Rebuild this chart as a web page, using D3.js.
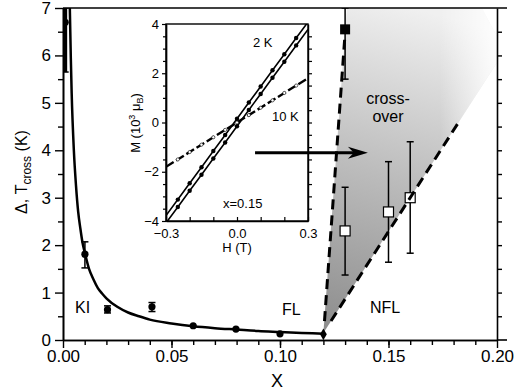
<!DOCTYPE html>
<html>
<head>
<meta charset="utf-8">
<script src="https://cdn.jsdelivr.net/npm/d3@7"></script>
<style>
  body { margin: 0; background: #fff; }
  text { font-family: "Liberation Sans", Arial, sans-serif; }
</style>
</head>
<body>
<div id="chart"></div>
<script>
// main curve (fit through the gap data)
const curveX = [0.0031, 0.0036, 0.004, 0.005, 0.006, 0.007, 0.008, 0.009, 0.010, 0.012, 0.014, 0.016, 0.018, 0.020, 0.025, 0.030, 0.035, 0.040, 0.050, 0.060, 0.070, 0.080, 0.090, 0.100, 0.110, 0.120];
const curveY = [7.1, 5.95, 5.2, 4.0, 3.25, 2.7, 2.35, 2.05, 1.85, 1.5, 1.28, 1.1, 0.98, 0.88, 0.7, 0.58, 0.5, 0.43, 0.35, 0.29, 0.25, 0.22, 0.19, 0.17, 0.15, 0.13];

// gap points (filled circles)
const gapX = [0.001, 0.0101, 0.0205, 0.041, 0.060, 0.0797, 0.100];
const gapY = [6.7, 1.81, 0.64, 0.70, 0.30, 0.23, 0.13];
const gapLo = [5.65, 1.52, 0.57, 0.60, null, null, null];
const gapHi = [7.0, 2.07, 0.72, 0.79, null, null, null];

// critical point (diamond)
const qcpX = [0.12];
const qcpY = [0.12];

// crossover temperatures (open squares)
const crossX = [0.13, 0.15, 0.16];
const crossY = [2.3, 2.7, 3.0];
const crossLo = [1.37, 1.64, 1.83];
const crossHi = [3.22, 3.76, 4.18];

// filled square
const topX = [0.13];
const topY = [6.55];
const topLo = [5.5];
const topHi = [7.0];

// boundaries of the crossover region
const leftBound = [[0.1205, 0.4], [0.1302, 6.6]];
const rightBound = [[0.1235, 0.4], [0.183, 4.64]];
const shade = [[0.12, 0.15], [0.1308, 7], [0.193, 7], [0.2, 6.4], [0.2, 5.85]];

// arrow
const arrowFrom = [0.0885, 3.95];
const arrowTo = [0.1405, 3.95];

// inset M(H)
const inH = [-0.3, -0.25, -0.2, -0.15, -0.1, -0.05, 0, 0.05, 0.1, 0.15, 0.2, 0.25, 0.3];
const m2kA = [-3.78, -3.13, -2.47, -1.82, -1.16, -0.51, 0.15, 0.81, 1.46, 2.12, 2.77, 3.43, 4.08];
const m2kB = [-4.08, -3.43, -2.77, -2.12, -1.46, -0.81, -0.15, 0.51, 1.16, 1.82, 2.47, 3.13, 3.78];
const m10k = [-1.8, -1.5, -1.2, -0.9, -0.6, -0.3, 0, 0.3, 0.6, 0.9, 1.2, 1.5, 1.8];

const xTicks = [0, 0.05, 0.1, 0.15, 0.2];
const yTicks = [0, 1, 2, 3, 4, 5, 6, 7];
const inXLabels = [-0.3, 0, 0.3];
const inYTicks = [-4, -2, 0, 2, 4];

const W = 515, H = 392;
const svg = d3.select("#chart").append("svg")
    .attr("width", W).attr("height", H);
svg.append("rect").attr("width", W).attr("height", H).attr("fill", "#fff");

const x = d3.scaleLinear().domain([0, 0.2]).range([63, 497]);
const y = d3.scaleLinear().domain([0, 7]).range([340, 8]);

const defs = svg.append("defs");
defs.append("clipPath").attr("id", "plotclip").append("rect")
    .attr("x", 63).attr("y", 8).attr("width", 434).attr("height", 332);

const grad = defs.append("linearGradient").attr("id", "shadeGrad")
    .attr("gradientUnits", "userSpaceOnUse")
    .attr("x1", 330).attr("y1", 335).attr("x2", 420).attr("y2", 10);
grad.append("stop").attr("offset", 0).attr("stop-color", "#8c8c8c");
grad.append("stop").attr("offset", 0.5).attr("stop-color", "#bcbcbc");
grad.append("stop").attr("offset", 1).attr("stop-color", "#f0f0f0");
const fade = defs.append("linearGradient").attr("id", "fadeGrad")
    .attr("gradientUnits", "userSpaceOnUse")
    .attr("x1", 440).attr("y1", 0).attr("x2", 497).attr("y2", 0);
fade.append("stop").attr("offset", 0).attr("stop-color", "#fff").attr("stop-opacity", 0);
fade.append("stop").attr("offset", 1).attr("stop-color", "#fff").attr("stop-opacity", 0.9);

const plot = svg.append("g").attr("clip-path", "url(#plotclip)");

// shaded crossover region
const poly = d3.line().x(d => x(d[0])).y(d => y(d[1]));
plot.append("path").attr("d", poly(shade) + "Z").attr("fill", "url(#shadeGrad)");
plot.append("path").attr("d", poly(shade) + "Z").attr("fill", "url(#fadeGrad)");

// main curve
const curvePts = curveX.map((v, i) => [v, curveY[i]]);
plot.append("path")
    .attr("d", d3.line().x(d => x(d[0])).y(d => y(d[1])).curve(d3.curveMonotoneX)(curvePts))
    .attr("fill", "none").attr("stroke", "#000").attr("stroke-width", 2.5);

// error bars
function errBar(g, xv, lo, hi, w, sw) {
    g.append("line").attr("x1", x(xv)).attr("x2", x(xv))
        .attr("y1", y(lo)).attr("y2", y(hi))
        .attr("stroke", "#000").attr("stroke-width", sw);
    [lo, hi].forEach(v => {
        g.append("line").attr("x1", x(xv) - w / 2).attr("x2", x(xv) + w / 2)
            .attr("y1", y(v)).attr("y2", y(v))
            .attr("stroke", "#000").attr("stroke-width", 1.5);
    });
}

gapX.forEach((v, i) => {
    if (gapLo[i] !== null) errBar(plot, v, gapLo[i], gapHi[i], 7, i === 0 ? 4 : 1.5);
});
plot.selectAll(".gap").data(gapX).enter().append("circle")
    .attr("cx", d => x(d)).attr("cy", (d, i) => y(gapY[i]))
    .attr("r", 3.6).attr("fill", "#000");

plot.selectAll(".qcp").data(qcpX).enter().append("path")
    .attr("d", d3.symbol().type(d3.symbolDiamond).size(40))
    .attr("transform", (d, i) => `translate(${x(d)},${y(qcpY[i])})`)
    .attr("fill", "#000");

// filled square
topX.forEach((v, i) => errBar(plot, v, topLo[i], topHi[i], 7, 1.5));
plot.selectAll(".tsq").data(topX).enter().append("rect")
    .attr("x", d => x(d) - 5).attr("y", (d, i) => y(topY[i]) - 5)
    .attr("width", 10).attr("height", 10).attr("fill", "#000");

// crossover squares
crossX.forEach((v, i) => errBar(plot, v, crossLo[i], crossHi[i], 7, 1.5));
plot.selectAll(".csq").data(crossX).enter().append("rect")
    .attr("x", d => x(d) - 5).attr("y", (d, i) => y(crossY[i]) - 5)
    .attr("width", 10).attr("height", 10)
    .attr("fill", "#fff").attr("stroke", "#000").attr("stroke-width", 1.2);

// dashed boundaries
[leftBound, rightBound].forEach(b => {
    plot.append("path").attr("d", poly(b))
        .attr("fill", "none").attr("stroke", "#000")
        .attr("stroke-width", 3).attr("stroke-dasharray", "10,6");
});

// axes
const fs = 17;
const ax = svg.append("g");
ax.append("g").attr("transform", "translate(63,0)")
    .call(d3.axisLeft(y).tickValues(yTicks).tickSize(8).tickSizeOuter(0).tickPadding(4).tickFormat(d3.format("d")));
ax.append("g").attr("transform", "translate(63,0)")
    .call(d3.axisLeft(y).tickValues(d3.range(0.5, 7, 1)).tickSize(5).tickSizeOuter(0).tickFormat(""));
ax.append("g").attr("transform", "translate(0,340)")
    .call(d3.axisBottom(x).tickValues(xTicks).tickSize(8).tickSizeOuter(0).tickPadding(2).tickFormat(d3.format(".2f")));
ax.append("g").attr("transform", "translate(0,340)")
    .call(d3.axisBottom(x).tickValues(d3.range(0.01, 0.2, 0.01)).tickSize(5).tickSizeOuter(0).tickFormat(""));
ax.append("g").attr("transform", "translate(497,0)")
    .call(d3.axisRight(y).tickValues(d3.range(0.5, 7, 0.5)).tickSize(5).tickSizeOuter(0).tickFormat(""));
ax.selectAll("path.domain").attr("stroke-width", 1.6);
ax.selectAll(".tick line").attr("stroke-width", 1.4);
ax.selectAll(".tick text").attr("font-size", fs).attr("fill", "#000")
    .attr("font-family", "'Liberation Sans', Arial, sans-serif");
// top frame line and extensions
ax.append("line").attr("x1", 63).attr("x2", 507).attr("y1", 8).attr("y2", 8)
    .attr("stroke", "#000").attr("stroke-width", 1.6);
ax.append("line").attr("x1", 497).attr("x2", 507).attr("y1", 340).attr("y2", 340)
    .attr("stroke", "#000").attr("stroke-width", 1.6);

// axis titles
svg.append("text").attr("x", 277).attr("y", 387).attr("text-anchor", "middle")
    .attr("font-size", 18).text("X");
const yl = svg.append("text").attr("transform", "translate(27,172) rotate(-90)")
    .attr("text-anchor", "middle").attr("font-size", 16);
yl.append("tspan").text("Δ, T");
yl.append("tspan").attr("font-size", 12).attr("dy", 4).text("cross");
yl.append("tspan").attr("dy", -4).text(" (K)");

// region labels
const lab = [["KI", 75, 313], ["FL", 282, 315], ["NFL", 370, 313]];
lab.forEach(l => svg.append("text").attr("x", l[1]).attr("y", l[2]).attr("font-size", 16).text(l[0]));
svg.append("text").attr("x", 388).attr("y", 104).attr("text-anchor", "middle").attr("font-size", 16).text("cross-");
svg.append("text").attr("x", 388).attr("y", 122).attr("text-anchor", "middle").attr("font-size", 16).text("over");

// ---------- inset ----------
const ix = d3.scaleLinear().domain([-0.3, 0.3]).range([166, 308]);
const iy = d3.scaleLinear().domain([-4, 4]).range([221, 24]);
const inset = svg.append("g");
inset.append("rect").attr("x", 166).attr("y", 24).attr("width", 142).attr("height", 197)
    .attr("fill", "#fff").attr("stroke", "#000").attr("stroke-width", 1.4);
defs.append("clipPath").attr("id", "inclip").append("rect")
    .attr("x", 166).attr("y", 24).attr("width", 142).attr("height", 197);
const ip = inset.append("g").attr("clip-path", "url(#inclip)");

const iline = d3.line().x((d, i) => ix(inH[i])).y(d => iy(d));
[m2kA, m2kB].forEach(s => {
    ip.append("path").attr("d", iline(s)).attr("fill", "none")
        .attr("stroke", "#000").attr("stroke-width", 1.6);
    ip.selectAll(null).data(s.slice(1, -1)).enter().append("circle")
        .attr("cx", (d, i) => ix(inH[i + 1])).attr("cy", d => iy(d))
        .attr("r", 2.2).attr("fill", "#000");
});
ip.append("path").attr("d", iline(m10k)).attr("fill", "none")
    .attr("stroke", "#000").attr("stroke-width", 2.4).attr("stroke-dasharray", "9,3");
ip.selectAll(null).data(m10k.slice(1, -1)).enter().append("circle")
    .attr("cx", (d, i) => ix(inH[i + 1])).attr("cy", d => iy(d))
    .attr("r", 1.6).attr("fill", "#fff").attr("stroke", "#000").attr("stroke-width", 0.6);

const iax = inset.append("g");
iax.append("g").attr("transform", "translate(166,0)")
    .call(d3.axisLeft(iy).tickValues(inYTicks).tickSize(4).tickSizeOuter(0).tickPadding(3));
iax.append("g").attr("transform", "translate(166,0)")
    .call(d3.axisLeft(iy).tickValues(d3.range(-3.5, 4, 0.5).filter(v => v % 2 !== 0)).tickSize(3).tickSizeOuter(0).tickFormat(""));
iax.append("g").attr("transform", "translate(308,0)")
    .call(d3.axisRight(iy).tickValues(d3.range(-3.5, 4, 0.5)).tickSize(4).tickSizeOuter(0).tickFormat(""));
iax.append("g").attr("transform", "translate(0,221)")
    .call(d3.axisBottom(ix).tickValues(d3.range(-3, 4, 1).map(v => v / 10)).tickSize(-4).tickSizeOuter(0).tickPadding(8)
        .tickFormat(d => inXLabels.some(v => Math.abs(v - d) < 1e-9) ? d3.format(".1f")(d) : ""));
iax.selectAll("path.domain").attr("stroke-width", 1.4);
iax.selectAll(".tick line").attr("stroke-width", 1.2);
iax.selectAll(".tick text").attr("font-size", 13).attr("fill", "#000")
    .attr("font-family", "'Liberation Sans', Arial, sans-serif");

inset.append("text").attr("x", 237).attr("y", 252).attr("text-anchor", "middle").attr("font-size", 13).text("H (T)");
const ml = inset.append("text").attr("transform", "translate(140,123) rotate(-90)")
    .attr("text-anchor", "middle").attr("font-size", 13);
ml.append("tspan").text("M (10");
ml.append("tspan").attr("font-size", 9).attr("dy", -5).text("3");
ml.append("tspan").attr("dy", 5).text(" μ");
ml.append("tspan").attr("font-size", 9).attr("dy", 3).text("B");
ml.append("tspan").attr("dy", -3).text(")");
inset.append("text").attr("x", 253).attr("y", 47).attr("font-size", 13).text("2 K");
inset.append("text").attr("x", 272).attr("y", 121).attr("font-size", 13).text("10 K");
inset.append("text").attr("x", 223).attr("y", 208).attr("font-size", 13).text("x=0.15");

// arrow
const ax0 = x(arrowFrom[0]), ay = y(arrowFrom[1]), ax1 = x(arrowTo[0]);
svg.append("line").attr("x1", ax0).attr("x2", ax1 - 8).attr("y1", ay).attr("y2", ay)
    .attr("stroke", "#000").attr("stroke-width", 3);
svg.append("path")
    .attr("d", `M${ax1},${ay} L${ax1 - 20},${ay - 6} L${ax1 - 14},${ay} L${ax1 - 20},${ay + 6} Z`)
    .attr("fill", "#000");
</script>
</body>
</html>
